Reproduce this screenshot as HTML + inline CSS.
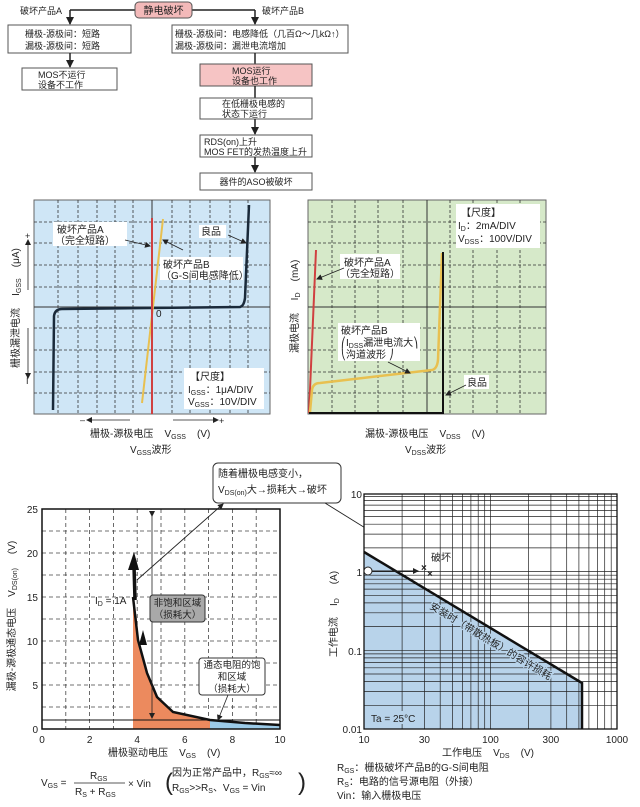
<!DOCTYPE html>
<html><head><meta charset="utf-8">
<style>
html,body{margin:0;padding:0;background:#fff;}
svg{display:block;}
text{font-family:"Liberation Sans","Noto Sans CJK SC",sans-serif;fill:#222;white-space:pre;}
</style></head>
<body>
<svg width="640" height="807" viewBox="0 0 640 807" xmlns="http://www.w3.org/2000/svg" xml:space="preserve">
<defs>
<marker id="ah" markerWidth="8" markerHeight="8" refX="7" refY="4" orient="auto" markerUnits="userSpaceOnUse"><path d="M0,0 L8,4 L0,8 Z" fill="#222"/></marker>
<marker id="ahs" markerWidth="6" markerHeight="6" refX="5" refY="3" orient="auto" markerUnits="userSpaceOnUse"><path d="M0,0 L6,3 L0,6 Z" fill="#222"/></marker>
</defs>

<g font-size="9">
<line x1="70" y1="10" x2="255" y2="10" stroke="#222" stroke-width="1.5"/>
<line x1="70" y1="10" x2="70" y2="24" stroke="#222" stroke-width="1.5" marker-end="url(#ah)"/>
<line x1="255" y1="10" x2="255" y2="24" stroke="#222" stroke-width="1.5" marker-end="url(#ah)"/>
<rect x="135" y="2" width="57" height="16" rx="4" fill="#f3b9b9" stroke="#555"/>
<text x="163.5" y="14" text-anchor="middle" font-size="10">静电破坏</text>
<text x="20" y="14">破坏产品A</text>
<text x="262" y="14">破坏产品B</text>
<rect x="8" y="25" width="123" height="28" fill="#fff" stroke="#555"/>
<text x="25" y="37">栅极-源极间：短路</text>
<text x="25" y="49">漏极-源极间：短路</text>
<line x1="70" y1="53" x2="70" y2="67" stroke="#222" stroke-width="1.5" marker-end="url(#ah)"/>
<rect x="22" y="68" width="95" height="22" fill="#fff" stroke="#555"/>
<text x="38" y="78">MOS不运行</text>
<text x="38" y="88">设备不工作</text>
<rect x="172" y="25" width="176" height="28" fill="#fff" stroke="#555"/>
<text x="175" y="37">栅极-源极间：电感降低（几百Ω～几kΩ↑）</text>
<text x="175" y="49">漏极-源极间：漏泄电流增加</text>
<line x1="255" y1="53" x2="255" y2="64" stroke="#222" stroke-width="1.5"/>
<rect x="200" y="64" width="112" height="22" fill="#f6c4c4" stroke="#555"/>
<text x="232" y="74">MOS运行</text>
<text x="232" y="84">设备也工作</text>
<line x1="255" y1="86" x2="255" y2="98" stroke="#222" stroke-width="1.5"/>
<rect x="200" y="98" width="112" height="21" fill="#fff" stroke="#555"/>
<text x="222" y="107">在低栅极电感的</text>
<text x="222" y="117">状态下运行</text>
<line x1="255" y1="119" x2="255" y2="134" stroke="#222" stroke-width="1.5" marker-end="url(#ah)"/>
<rect x="200" y="135" width="112" height="22" fill="#fff" stroke="#555"/>
<text x="204" y="145">RDS(on)上升</text>
<text x="204" y="155">MOS FET的发热温度上升</text>
<line x1="255" y1="157" x2="255" y2="172" stroke="#222" stroke-width="1.5" marker-end="url(#ah)"/>
<rect x="200" y="173" width="112" height="17" fill="#fff" stroke="#555"/>
<text x="256" y="185" text-anchor="middle">器件的ASO被破坏</text>
</g>

<rect x="34" y="200" width="236" height="214" fill="#cfe6f6" stroke="#666"/>
<g stroke="#333" stroke-width="0.8" stroke-dasharray="3,2">
<line x1="58" y1="200" x2="58" y2="414"/><line x1="78" y1="200" x2="78" y2="414"/><line x1="97" y1="200" x2="97" y2="414"/><line x1="115" y1="200" x2="115" y2="414"/><line x1="133" y1="200" x2="133" y2="414"/><line x1="172" y1="200" x2="172" y2="414"/><line x1="190" y1="200" x2="190" y2="414"/><line x1="210" y1="200" x2="210" y2="414"/><line x1="230" y1="200" x2="230" y2="414"/><line x1="248" y1="200" x2="248" y2="414"/>
<line x1="34" y1="222" x2="270" y2="222"/><line x1="34" y1="243" x2="270" y2="243"/><line x1="34" y1="265" x2="270" y2="265"/><line x1="34" y1="287" x2="270" y2="287"/><line x1="34" y1="328" x2="270" y2="328"/><line x1="34" y1="350" x2="270" y2="350"/><line x1="34" y1="372" x2="270" y2="372"/><line x1="34" y1="393" x2="270" y2="393"/>
</g>
<line x1="152" y1="200" x2="152" y2="414" stroke="#333" stroke-width="1"/>
<line x1="34" y1="307" x2="270" y2="307" stroke="#333" stroke-width="1"/>
<path d="M53,410 L54,316 Q55,309 62,309 L240,307 Q244,306 245,298 L249,205" fill="none" stroke="#1a2a3a" stroke-width="2.5"/>
<line x1="142" y1="403" x2="163" y2="219" stroke="#e8c050" stroke-width="2"/>
<line x1="152" y1="218" x2="152" y2="414" stroke="#d04040" stroke-width="2"/>
<rect x="53" y="222" width="74" height="24" fill="#fff"/>
<text x="57" y="233" font-size="10">破坏产品A</text>
<text x="55" y="244" font-size="10">（完全短路）</text>
<line x1="125" y1="240" x2="150" y2="246" stroke="#222" stroke-width="0.8" marker-end="url(#ahs)"/>
<rect x="199" y="225" width="27" height="13" fill="#fff"/>
<text x="201" y="235" font-size="10">良品</text>
<line x1="228" y1="235" x2="246" y2="243" stroke="#222" stroke-width="0.8" marker-end="url(#ahs)"/>
<rect x="160" y="257" width="83" height="23" fill="#fff"/>
<text x="163" y="268" font-size="10">破坏产品B</text>
<text x="161" y="279" font-size="10">（G-S间电感降低）</text>
<line x1="183" y1="250" x2="163" y2="240" stroke="#222" stroke-width="0.8" marker-end="url(#ahs)"/>
<text x="156" y="317" font-size="10">0</text>
<rect x="184" y="368" width="80" height="41" fill="#fff"/>
<text x="190" y="380" font-size="10">【尺度】</text>
<text x="188" y="393" font-size="10">I<tspan font-size="7" dy="2">GSS</tspan><tspan dy="-2">：1μA/DIV</tspan></text>
<text x="188" y="405" font-size="10">V<tspan font-size="7" dy="2">GSS</tspan><tspan dy="-2">：10V/DIV</tspan></text>
<line x1="28" y1="290" x2="28" y2="240" stroke="#222" stroke-width="0.8" marker-end="url(#ahs)"/>
<line x1="28" y1="328" x2="28" y2="378" stroke="#222" stroke-width="0.8" marker-end="url(#ahs)"/>
<text x="25" y="239" font-size="9">+</text>
<text x="26" y="384" font-size="9">I</text>
<text transform="translate(19,272) rotate(-90)" font-size="10" text-anchor="middle">I<tspan font-size="7" dy="2">GSS</tspan><tspan dy="-2">    (μA)</tspan></text>
<text transform="translate(19,338) rotate(-90)" font-size="10" text-anchor="middle">栅极漏泄电流</text>
<text x="80" y="423" font-size="9">–</text>
<line x1="130" y1="420" x2="87" y2="420" stroke="#222" stroke-width="0.8" marker-end="url(#ahs)"/>
<line x1="173" y1="420" x2="218" y2="420" stroke="#222" stroke-width="0.8" marker-end="url(#ahs)"/>
<text x="219" y="424" font-size="9">+</text>
<text x="90" y="437" font-size="10">栅极-源极电压    V<tspan font-size="7" dy="2">GSS</tspan><tspan dy="-2">    (V)</tspan></text>
<text x="130" y="453" font-size="10">V<tspan font-size="7" dy="2">GSS</tspan><tspan dy="-2">波形</tspan></text>

<rect x="308" y="200" width="238" height="214" fill="#d6e9c9" stroke="#666"/>
<g stroke="#333" stroke-width="0.8" stroke-dasharray="3,2">
<line x1="332" y1="200" x2="332" y2="414"/><line x1="355" y1="200" x2="355" y2="414"/><line x1="378" y1="200" x2="378" y2="414"/><line x1="403" y1="200" x2="403" y2="414"/><line x1="450" y1="200" x2="450" y2="414"/><line x1="473" y1="200" x2="473" y2="414"/><line x1="497" y1="200" x2="497" y2="414"/><line x1="520" y1="200" x2="520" y2="414"/>
<line x1="308" y1="222" x2="546" y2="222"/><line x1="308" y1="243" x2="546" y2="243"/><line x1="308" y1="265" x2="546" y2="265"/><line x1="308" y1="287" x2="546" y2="287"/><line x1="308" y1="328" x2="546" y2="328"/><line x1="308" y1="350" x2="546" y2="350"/><line x1="308" y1="372" x2="546" y2="372"/><line x1="308" y1="393" x2="546" y2="393"/>
</g>
<line x1="427" y1="200" x2="427" y2="414" stroke="#333" stroke-width="1"/>
<line x1="308" y1="307" x2="546" y2="307" stroke="#333" stroke-width="1"/>
<line x1="309" y1="413" x2="316" y2="250" stroke="#d04040" stroke-width="2"/>
<path d="M310,412 L312,390 Q313,383 320,383 L432,370 Q437,369 438,360 L442,253" fill="none" stroke="#e8c050" stroke-width="2.5"/>
<path d="M309,413 L443,413 L443,252" fill="none" stroke="#111" stroke-width="2"/>
<rect x="456" y="204" width="84" height="44" fill="#fff"/>
<text x="461" y="216" font-size="10">【尺度】</text>
<text x="458" y="229" font-size="10">I<tspan font-size="7" dy="2">D</tspan><tspan dy="-2">：2mA/DIV</tspan></text>
<text x="458" y="242" font-size="10">V<tspan font-size="7" dy="2">DSS</tspan><tspan dy="-2">：100V/DIV</tspan></text>
<rect x="340" y="254" width="60" height="25" fill="#fff"/>
<text x="344" y="266" font-size="10">破坏产品A</text>
<text x="340" y="277" font-size="10">（完全短路）</text>
<line x1="344" y1="268" x2="317" y2="279" stroke="#222" stroke-width="0.8" marker-end="url(#ahs)"/>
<rect x="338" y="323" width="82" height="38" fill="#fff"/>
<text x="341" y="334" font-size="10">破坏产品B</text>
<text x="341" y="346" font-size="10">⎛I<tspan font-size="7" dy="2">DSS</tspan><tspan dy="-2">漏泄电流大⎞</tspan></text>
<text x="341" y="358" font-size="10">⎝沟道波形 ⎠</text>
<line x1="388" y1="362" x2="410" y2="373" stroke="#222" stroke-width="0.8" marker-end="url(#ahs)"/>
<rect x="464" y="375" width="25" height="14" fill="#fff"/>
<text x="467" y="386" font-size="10">良品</text>
<line x1="466" y1="385" x2="446" y2="395" stroke="#222" stroke-width="0.8" marker-end="url(#ahs)"/>
<text transform="translate(298,280) rotate(-90)" font-size="10" text-anchor="middle">I<tspan font-size="7" dy="2">D</tspan><tspan dy="-2">    (mA)</tspan></text>
<text transform="translate(298,333) rotate(-90)" font-size="10" text-anchor="middle">漏极电流</text>
<text x="365" y="437" font-size="10">漏极-源极电压    V<tspan font-size="7" dy="2">DSS</tspan><tspan dy="-2">    (V)</tspan></text>
<text x="405" y="453" font-size="10">V<tspan font-size="7" dy="2">DSS</tspan><tspan dy="-2">波形</tspan></text>

<rect x="42" y="509" width="238" height="220" fill="#fff"/>
<g stroke="#444" stroke-width="0.8" stroke-dasharray="4,3">
<line x1="65.8" y1="509" x2="65.8" y2="729"/><line x1="89.6" y1="509" x2="89.6" y2="729"/><line x1="113.4" y1="509" x2="113.4" y2="729"/><line x1="137.2" y1="509" x2="137.2" y2="729"/><line x1="161" y1="509" x2="161" y2="729"/><line x1="184.8" y1="509" x2="184.8" y2="729"/><line x1="208.6" y1="509" x2="208.6" y2="729"/><line x1="232.4" y1="509" x2="232.4" y2="729"/><line x1="256.2" y1="509" x2="256.2" y2="729"/>
<line x1="42" y1="531" x2="280" y2="531"/><line x1="42" y1="553" x2="280" y2="553"/><line x1="42" y1="575" x2="280" y2="575"/><line x1="42" y1="597" x2="280" y2="597"/><line x1="42" y1="619" x2="280" y2="619"/><line x1="42" y1="641" x2="280" y2="641"/><line x1="42" y1="663" x2="280" y2="663"/><line x1="42" y1="685" x2="280" y2="685"/><line x1="42" y1="707" x2="280" y2="707"/>
</g>
<path d="M133,597 L138,640 L147,673 L157,697 L173,712 L210,720 L210,729 L133,729 Z" fill="#ec8a5e"/>
<path d="M210,720 L245,723 L280,725 L280,729 L210,729 Z" fill="#9ccbe8"/>
<line x1="42" y1="720" x2="280" y2="720" stroke="#111" stroke-width="1"/>
<path d="M133,597 L138,640 L147,673 L157,697 L173,712 L210,720 L245,723 L280,725" fill="none" stroke="#111" stroke-width="2.5"/>
<line x1="135" y1="600" x2="134" y2="566" stroke="#111" stroke-width="3.5"/>
<path d="M128,570 L134,552 L139,570 Z" fill="#111"/>
<path d="M139,645 L143,630 L147,645 Z" fill="#111"/>
<line x1="152" y1="516" x2="152" y2="718" stroke="#222" stroke-width="0.8" marker-start="url(#ahs)" marker-end="url(#ahs)"/>
<rect x="42" y="509" width="238" height="220" fill="none" stroke="#111" stroke-width="1.5"/>
<line x1="137" y1="580" x2="223" y2="504" stroke="#222" stroke-width="0.9" marker-end="url(#ahs)"/>
<text x="95" y="604" font-size="10">I<tspan font-size="7" dy="2">D</tspan><tspan dy="-2"> = 1A</tspan></text>
<rect x="150" y="595" width="55" height="27" rx="3" fill="#a9a9a9" stroke="#333"/>
<text x="177.5" y="606" font-size="9.5" text-anchor="middle">非饱和区域</text>
<text x="177.5" y="618" font-size="9.5" text-anchor="middle">（损耗大）</text>
<rect x="199" y="658" width="66" height="37" rx="3" fill="#fff" stroke="#333"/>
<text x="232" y="668" font-size="9.5" text-anchor="middle">通态电阻的饱</text>
<text x="232" y="680" font-size="9.5" text-anchor="middle">和区域</text>
<text x="232" y="692" font-size="9.5" text-anchor="middle">（损耗大）</text>
<line x1="228" y1="695" x2="218" y2="720" stroke="#222" stroke-width="0.8" marker-end="url(#ahs)"/>
<g font-size="10" text-anchor="end">
<text x="38" y="513">25</text><text x="38" y="557">20</text><text x="38" y="601">15</text><text x="38" y="645">10</text><text x="38" y="689">5</text><text x="38" y="733">0</text>
</g>
<g font-size="10" text-anchor="middle">
<text x="42" y="743">0</text><text x="89.6" y="743">2</text><text x="137.2" y="743">4</text><text x="184.8" y="743">6</text><text x="232.4" y="743">8</text><text x="280" y="743">10</text>
</g>
<text transform="translate(15,616) rotate(-90)" font-size="10" text-anchor="middle">漏极-源极通态电压    V<tspan font-size="7" dy="2">DS(on)</tspan><tspan dy="-2">     (V)</tspan></text>
<text x="108" y="756" font-size="10">栅极驱动电压    V<tspan font-size="7" dy="2">GS</tspan><tspan dy="-2">    (V)</tspan></text>
<text x="41" y="786" font-size="10">V<tspan font-size="7" dy="2">GS</tspan><tspan dy="-2"> =</tspan></text>
<text x="90" y="779" font-size="10">R<tspan font-size="7" dy="2">GS</tspan></text>
<line x1="74" y1="783" x2="125" y2="783" stroke="#222" stroke-width="0.8"/>
<text x="75" y="795" font-size="10">R<tspan font-size="7" dy="2">S</tspan><tspan dy="-2"> + R</tspan><tspan font-size="7" dy="2">GS</tspan></text>
<text x="128" y="787" font-size="10">× Vin</text>
<text x="165" y="790" font-size="24" fill="#333">(</text>
<text x="298" y="790" font-size="24" fill="#333">)</text>
<text x="172" y="776" font-size="10">因为正常产品中，R<tspan font-size="7" dy="2">GS</tspan><tspan dy="-2">≈∞</tspan></text>
<text x="172" y="791" font-size="10">R<tspan font-size="7" dy="2">GS</tspan><tspan dy="-2">&gt;&gt;R</tspan><tspan font-size="7" dy="2">S</tspan><tspan dy="-2">、V</tspan><tspan font-size="7" dy="2">GS</tspan><tspan dy="-2"> = Vin</tspan></text>

<rect x="213" y="463" width="128" height="40" rx="5" fill="#fff" stroke="#333"/>
<text x="218" y="477" font-size="10">随着栅极电感变小，</text>
<text x="218" y="493" font-size="10">V<tspan font-size="7" dy="2">DS(on)</tspan><tspan dy="-2">大→损耗大→破坏</tspan></text>
<line x1="325" y1="503" x2="420" y2="562" stroke="#222" stroke-width="0.9" marker-end="url(#ahs)"/>

<rect x="364" y="494" width="253" height="235" fill="#fff"/>
<path d="M364,552 L582,683 L582,729 L364,729 Z" fill="#b8d3ea"/>
<g stroke="#222" stroke-width="0.7">
<line x1="402.1" y1="494" x2="402.1" y2="729"/><line x1="424.4" y1="494" x2="424.4" y2="729"/><line x1="440.2" y1="494" x2="440.2" y2="729"/><line x1="452.4" y1="494" x2="452.4" y2="729"/><line x1="462.4" y1="494" x2="462.4" y2="729"/><line x1="470.9" y1="494" x2="470.9" y2="729"/><line x1="478.2" y1="494" x2="478.2" y2="729"/><line x1="484.7" y1="494" x2="484.7" y2="729"/><line x1="490.5" y1="494" x2="490.5" y2="729"/>
<line x1="528.6" y1="494" x2="528.6" y2="729"/><line x1="550.9" y1="494" x2="550.9" y2="729"/><line x1="566.7" y1="494" x2="566.7" y2="729"/><line x1="578.9" y1="494" x2="578.9" y2="729"/><line x1="588.9" y1="494" x2="588.9" y2="729"/><line x1="597.4" y1="494" x2="597.4" y2="729"/><line x1="604.7" y1="494" x2="604.7" y2="729"/><line x1="611.2" y1="494" x2="611.2" y2="729"/>
<line x1="364" y1="705.3" x2="617" y2="705.3"/><line x1="364" y1="691.5" x2="617" y2="691.5"/><line x1="364" y1="681.6" x2="617" y2="681.6"/><line x1="364" y1="674" x2="617" y2="674"/><line x1="364" y1="667.8" x2="617" y2="667.8"/><line x1="364" y1="662.5" x2="617" y2="662.5"/><line x1="364" y1="657.9" x2="617" y2="657.9"/><line x1="364" y1="653.9" x2="617" y2="653.9"/><line x1="364" y1="650.3" x2="617" y2="650.3"/>
<line x1="364" y1="626.6" x2="617" y2="626.6"/><line x1="364" y1="612.8" x2="617" y2="612.8"/><line x1="364" y1="602.9" x2="617" y2="602.9"/><line x1="364" y1="595.3" x2="617" y2="595.3"/><line x1="364" y1="589.1" x2="617" y2="589.1"/><line x1="364" y1="583.8" x2="617" y2="583.8"/><line x1="364" y1="579.2" x2="617" y2="579.2"/><line x1="364" y1="575.2" x2="617" y2="575.2"/><line x1="364" y1="571.6" x2="617" y2="571.6"/>
<line x1="364" y1="547.9" x2="617" y2="547.9"/><line x1="364" y1="534.1" x2="617" y2="534.1"/><line x1="364" y1="524.2" x2="617" y2="524.2"/><line x1="364" y1="516.6" x2="617" y2="516.6"/><line x1="364" y1="510.4" x2="617" y2="510.4"/><line x1="364" y1="505.1" x2="617" y2="505.1"/><line x1="364" y1="500.5" x2="617" y2="500.5"/><line x1="364" y1="496.5" x2="617" y2="496.5"/>
</g>
<rect x="364" y="494" width="253" height="235" fill="none" stroke="#111" stroke-width="1.3"/>
<path d="M364,552 L582,683 L582,729" fill="none" stroke="#111" stroke-width="2.5"/>
<line x1="372" y1="571" x2="418" y2="571" stroke="#222" stroke-width="1" marker-end="url(#ahs)"/>
<circle cx="368" cy="571" r="4" fill="#fff" stroke="#222" stroke-width="1"/>
<text x="421" y="571" font-size="10" font-weight="bold">×</text>
<text x="427" y="577" font-size="10" font-weight="bold">×</text>
<text x="431" y="561" font-size="10">破坏</text>
<text transform="translate(489,644) rotate(31)" font-size="10" text-anchor="middle" stroke="#b8d3ea" stroke-width="2.5" paint-order="stroke">安装时（带散热板）的容许损耗</text>
<rect x="368" y="711" width="48" height="13" fill="#b8d3ea"/>
<text x="371" y="722" font-size="10">Ta = 25°C</text>
<g font-size="10" text-anchor="end">
<text x="362" y="498">10</text><text x="362" y="576">1</text><text x="362" y="655">0.1</text><text x="362" y="733">0.01</text>
</g>
<g font-size="10" text-anchor="middle">
<text x="364" y="743">10</text><text x="424.4" y="743">30</text><text x="490.5" y="743">100</text><text x="550.9" y="743">300</text><text x="617" y="743">1000</text>
</g>
<text transform="translate(337,614) rotate(-90)" font-size="10" text-anchor="middle">工作电流    I<tspan font-size="7" dy="2">D</tspan><tspan dy="-2">     (A)</tspan></text>
<text x="442" y="756" font-size="10">工作电压    V<tspan font-size="7" dy="2">DS</tspan><tspan dy="-2">    (V)</tspan></text>
<text x="337" y="771" font-size="10">R<tspan font-size="7" dy="2">GS</tspan><tspan dy="-2">：栅极破坏产品B的G-S间电阻</tspan></text>
<text x="337" y="785" font-size="10">R<tspan font-size="7" dy="2">S</tspan><tspan dy="-2">：电路的信号源电阻（外接）</tspan></text>
<text x="337" y="799" font-size="10">Vin：输入栅极电压</text>
</svg>
</body></html>
